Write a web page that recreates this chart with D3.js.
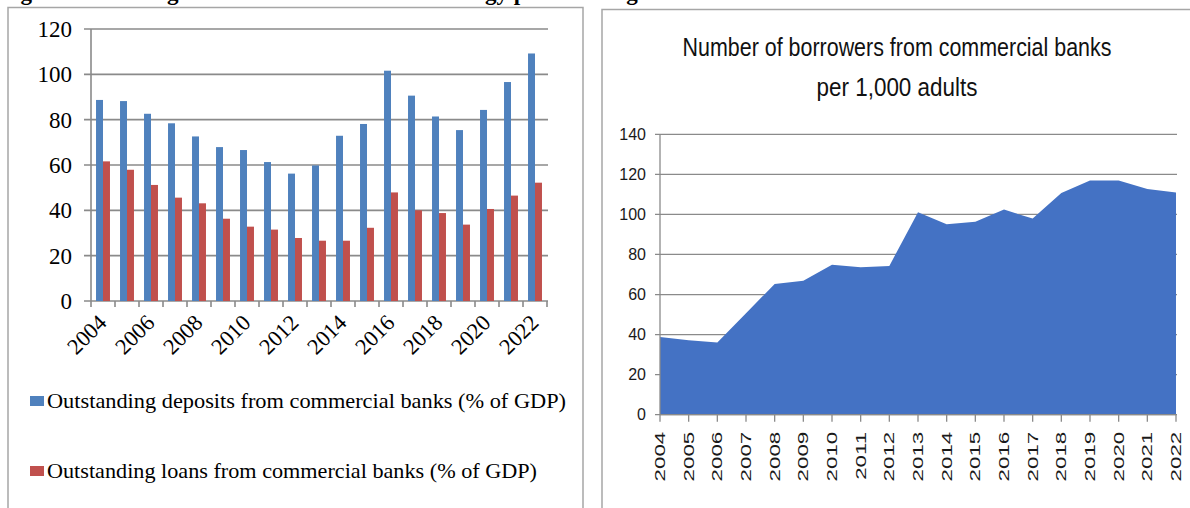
<!DOCTYPE html>
<html>
<head>
<meta charset="utf-8">
<script src="https://cdn.jsdelivr.net/npm/d3@7"></script>
<style>
  html, body { margin: 0; padding: 0; background: #fff; }
  svg { display: block; }
</style>
</head>
<body>
<svg id="chart" width="1190" height="508"></svg>
<script>
// ---- data ----
const barYears = d3.range(2004, 2023).map(String);
const deposits = [88.7, 88.2, 82.6, 78.4, 72.6, 67.9, 66.6, 61.3, 56.2, 59.8, 72.9, 78.1, 101.6, 90.6, 81.4, 75.4, 84.3, 96.6, 109.2];
const loans    = [61.6, 57.9, 51.2, 45.6, 43.1, 36.3, 32.8, 31.5, 27.8, 26.6, 26.6, 32.3, 47.9, 40.0, 38.8, 33.7, 40.6, 46.5, 52.2];
const barTicks = [0, 20, 40, 60, 80, 100, 120];
const barLabelYears = ["2004", "2006", "2008", "2010", "2012", "2014", "2016", "2018", "2020", "2022"];
const seriesNames = ["Outstanding deposits from commercial banks (% of GDP)", "Outstanding loans from commercial banks (% of GDP)"];

const areaYears = d3.range(2004, 2023).map(String);
const borrowers = [38.8, 37.2, 36.0, 50.6, 65.3, 66.9, 74.9, 73.6, 74.3, 101.1, 95.1, 96.4, 102.4, 97.9, 110.7, 116.9, 116.9, 112.7, 110.9];
const areaTicks = [0, 20, 40, 60, 80, 100, 120, 140];
const areaTitle = ["Number of borrowers from commercial banks", "per 1,000 adults"];

const captionText = "Figure 2: Banking trends over the financial strategy period and gains";

const svg = d3.select("#chart");
const gridColor = "#8a8a8a";
const frameColor = "#a6a6a6";

// caption running off the top edge
svg.append("text")
  .attr("x", 0).attr("y", 0)
  .attr("font-family", "Liberation Serif, serif")
  .attr("font-weight", "bold")
  .attr("font-size", 23)
  .attr("fill", "#000")
  .text(captionText);

// panel frames
svg.append("path")
  .attr("d", "M8,520 V7.5 H583 V520")
  .attr("fill", "none").attr("stroke", frameColor).attr("stroke-width", 1.5);
svg.append("path")
  .attr("d", "M602,520 V9.5 H1200")
  .attr("fill", "none").attr("stroke", frameColor).attr("stroke-width", 1.5);

// ================= left panel: clustered bars =================
const L = { left: 91, right: 547, top: 29, bottom: 301 };
const x0 = d3.scaleBand().domain(barYears).range([L.left, L.right]).padding(0);
const x1 = d3.scaleBand().domain(["dep", "loan"]).range([0, x0.bandwidth()]).paddingInner(0).paddingOuter(0.72);
const yL = d3.scaleLinear().domain([0, 120]).range([L.bottom, L.top]);
const barColors = { dep: "#4F81BD", loan: "#C0504D" };

const gL = svg.append("g");

// horizontal gridlines with tick stubs left of the axis
gL.selectAll("line.grid").data(barTicks).join("line")
  .attr("x1", L.left - 7).attr("x2", L.right + 1)
  .attr("y1", d => yL(d)).attr("y2", d => yL(d))
  .attr("stroke", gridColor).attr("stroke-width", 1.6);

// bars
const rows = barYears.map((yr, i) => ({ yr, dep: deposits[i], loan: loans[i] }));
gL.selectAll("g.year").data(rows).join("g")
  .attr("transform", d => `translate(${x0(d.yr)},0)`)
  .selectAll("rect").data(d => [{ k: "dep", v: d.dep }, { k: "loan", v: d.loan }]).join("rect")
  .attr("x", d => x1(d.k))
  .attr("width", x1.bandwidth())
  .attr("y", d => yL(d.v))
  .attr("height", d => yL(0) - yL(d.v))
  .attr("fill", d => barColors[d.k]);

// vertical axis line
gL.append("line")
  .attr("x1", L.left).attr("x2", L.left).attr("y1", L.top).attr("y2", L.bottom)
  .attr("stroke", gridColor).attr("stroke-width", 1.6);

// category tick marks at band boundaries
const boundaries = barYears.map(y => x0(y)).concat([L.right]);
gL.selectAll("line.xt").data(boundaries).join("line")
  .attr("x1", d => d).attr("x2", d => d)
  .attr("y1", L.bottom).attr("y2", L.bottom + 6)
  .attr("stroke", gridColor).attr("stroke-width", 1.6);

// y labels
gL.selectAll("text.yl").data(barTicks).join("text")
  .attr("x", 72).attr("y", d => yL(d))
  .attr("dy", "0.35em")
  .attr("text-anchor", "end")
  .attr("font-family", "Liberation Serif, serif")
  .attr("font-size", 23)
  .attr("fill", "#000")
  .text(d => d);

// x labels, slanted
gL.selectAll("text.xl").data(barLabelYears).join("text")
  .attr("transform", d => `translate(${x0(d) + x0.bandwidth() / 2 + 5},${L.bottom + 23}) rotate(-45)`)
  .attr("text-anchor", "end")
  .attr("font-family", "Liberation Serif, serif")
  .attr("font-size", 22.5)
  .attr("fill", "#000")
  .text(d => d);

// legend
const legend = gL.selectAll("g.leg").data([
  { k: "dep", name: seriesNames[0], y: 408, len: 519 },
  { k: "loan", name: seriesNames[1], y: 478, len: 490 }
]).join("g");
legend.append("rect")
  .attr("x", 30).attr("y", d => d.y - 12)
  .attr("width", 14).attr("height", 10)
  .attr("fill", d => barColors[d.k]);
legend.append("text")
  .attr("x", 47).attr("y", d => d.y)
  .attr("font-family", "Liberation Serif, serif")
  .attr("font-size", 21)
  .attr("textLength", d => d.len)
  .attr("lengthAdjust", "spacingAndGlyphs")
  .attr("fill", "#000")
  .text(d => d.name);

// ================= right panel: area =================
const R = { left: 660, right: 1176, top: 134.3, bottom: 414.7 };
const xR = d3.scalePoint().domain(areaYears).range([R.left, R.right]);
const yR = d3.scaleLinear().domain([0, 140]).range([R.bottom, R.top]);
const gR = svg.append("g");

// title: a condensed face, narrowed horizontally to its line width
gR.selectAll("g.title").data([
  { t: areaTitle[0], y: 56, len: 429 },
  { t: areaTitle[1], y: 96, len: 161 }
]).join("g")
  .each(function (d) {
    const g = d3.select(this);
    const t = g.append("text")
      .attr("x", 0).attr("y", 0)
      .attr("text-anchor", "middle")
      .attr("font-family", "Liberation Sans Narrow, Liberation Sans, Arial, sans-serif")
      .attr("font-size", 26)
      .attr("fill", "#111")
      .text(d.t);
    const natural = t.node().getComputedTextLength();
    g.attr("transform", `translate(897,${d.y}) scale(${d.len / natural},1)`);
  });

// gridlines
gR.selectAll("line.grid").data(areaTicks).join("line")
  .attr("x1", R.left - 5).attr("x2", R.right + 1)
  .attr("y1", d => yR(d)).attr("y2", d => yR(d))
  .attr("stroke", gridColor).attr("stroke-width", 1.3);

// area
const area = d3.area()
  .x((d, i) => xR(areaYears[i]))
  .y0(yR(0))
  .y1(d => yR(d));
gR.append("path")
  .datum(borrowers)
  .attr("d", area)
  .attr("fill", "#4472C4");

// axis lines
gR.append("line")
  .attr("x1", R.left).attr("x2", R.left).attr("y1", R.top).attr("y2", R.bottom)
  .attr("stroke", gridColor).attr("stroke-width", 1.3);
gR.append("line")
  .attr("x1", R.left).attr("x2", R.right).attr("y1", R.bottom).attr("y2", R.bottom)
  .attr("stroke", gridColor).attr("stroke-width", 1.3);
gR.selectAll("line.xt").data(areaYears).join("line")
  .attr("x1", d => xR(d)).attr("x2", d => xR(d))
  .attr("y1", R.bottom).attr("y2", R.bottom + 7)
  .attr("stroke", gridColor).attr("stroke-width", 1.3);

// y labels
gR.selectAll("text.yl").data(areaTicks).join("text")
  .attr("x", 646).attr("y", d => yR(d))
  .attr("dy", "0.36em")
  .attr("text-anchor", "end")
  .attr("font-family", "Liberation Sans, Arial, sans-serif")
  .attr("font-size", 16)
  .attr("fill", "#1a1a1a")
  .text(d => d);

// x labels, vertical
gR.selectAll("text.xl").data(areaYears).join("text")
  .attr("transform", d => `translate(${xR(d)},${R.bottom + 17}) rotate(-90) scale(1.6,1)`)
  .attr("text-anchor", "end")
  .attr("dy", "0.36em")
  .attr("font-family", "Liberation Sans, Arial, sans-serif")
  .attr("font-size", 14)
  .attr("fill", "#1a1a1a")
  .text(d => d);
</script>
</body>
</html>
